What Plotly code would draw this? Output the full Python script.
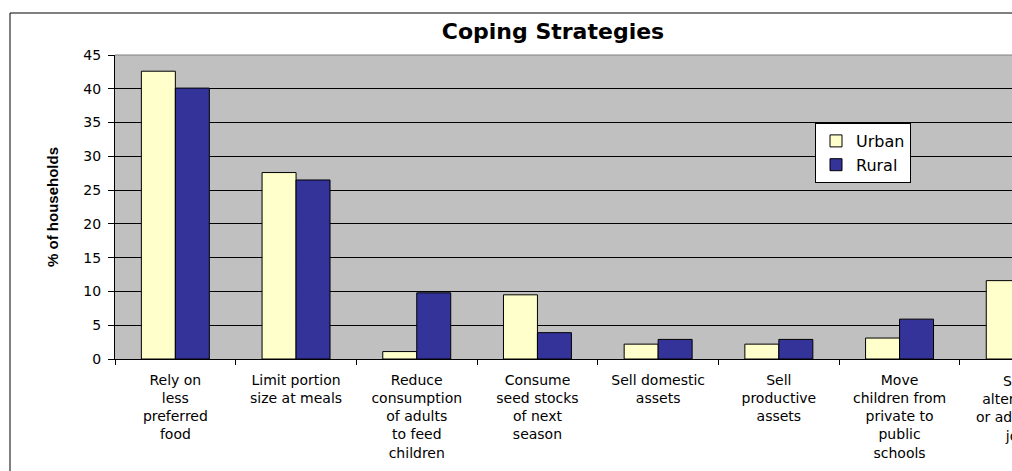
import plotly.graph_objects as go

categories = [
    "Rely on<br>less<br>preferred<br>food",
    "Limit portion<br>size at meals",
    "Reduce<br>consumption<br>of adults<br>to feed<br>children",
    "Consume<br>seed stocks<br>of next<br>season",
    "Sell domestic<br>assets",
    "Sell<br>productive<br>assets",
    "Move<br>children from<br>private to<br>public<br>schools",
    "Seek<br>alternative<br>or additional<br>jobs",
]
urban = [42.6, 27.6, 1.1, 9.5, 2.2, 2.2, 3.1, 11.6]
rural = [40.1, 26.5, 9.8, 3.9, 2.9, 2.9, 5.9, 9.0]

W, H = 1012, 471
ML, MR, MT, MB = 115, 0, 55, 112
PW = W - ML - MR
PH = H - MT - MB

tick_font = dict(family="DejaVu Sans", size=14, color="black")

fig = go.Figure()
fig.add_trace(go.Bar(name="Urban", x=list(range(len(categories))), y=urban,
                     marker=dict(color="#FFFFCC", line=dict(color="black", width=1))))
fig.add_trace(go.Bar(name="Rural", x=list(range(len(categories))), y=rural,
                     marker=dict(color="#333399", line=dict(color="black", width=1))))

cat_px = 120.7
x_end = -0.5 + PW / cat_px

fig.update_layout(
    width=W, height=H,
    margin=dict(l=ML, r=MR, t=MT, b=MB, pad=0),
    paper_bgcolor="white",
    plot_bgcolor="#C0C0C0",
    barmode="group",
    bargap=0.437,
    bargroupgap=0,
    title=dict(text="<b>Coping Strategies</b>", x=553 / W, xref="container", xanchor="center",
               y=1 - 31 / H, yref="container", yanchor="middle",
               font=dict(family="DejaVu Sans", size=22, color="black")),
    legend=dict(x=(815 - ML) / PW, y=1 - (123 - MT) / PH, xanchor="left", yanchor="top",
                bgcolor="white", bordercolor="black", borderwidth=1,
                font=dict(family="DejaVu Sans", size=16, color="black"),
                tracegroupgap=0),
    xaxis=dict(type="category", range=[-0.5, x_end], tickson="boundaries",
               tickmode="array", tickvals=list(range(len(categories))), ticktext=categories,
               ticks="outside", ticklen=5, ticklabelstandoff=8,
               tickcolor="black", tickwidth=1, showline=True, linecolor="black", linewidth=1,
               showgrid=False, tickfont=tick_font, tickangle=0),
    yaxis=dict(range=[0, 45], dtick=5, ticks="outside", ticklen=6, tickcolor="black",
               ticklabelstandoff=4,
               showline=True, linecolor="black", linewidth=1, showgrid=True,
               gridcolor="black", gridwidth=1, zeroline=False, tickfont=tick_font),
    showlegend=True,
)

# label of the last (partly cut-off) category, placed at its category centre
last = len(categories) - 1
fig.add_annotation(text=categories[last], xref="paper", yref="paper",
                   x=(last + 0.5) * cat_px / PW, y=0, yshift=-12,
                   xanchor="center", yanchor="top", align="center", showarrow=False,
                   font=tick_font)

fig.add_annotation(text="<b>% of households</b>", xref="paper", yref="paper",
                   x=(52 - ML) / PW, y=0.5, xanchor="center", yanchor="middle",
                   textangle=-90, showarrow=False,
                   font=dict(family="Liberation Sans", size=15, color="black"))

# outer chart border (clipped at right and bottom like the reference)
fig.add_shape(type="rect", xref="paper", yref="paper",
              x0=(10 - ML) / PW, x1=1.5, y0=-0.6, y1=1 + (MT - 13) / PH,
              line=dict(color="black", width=1), layer="above")
# grey top edge of plot area
fig.add_shape(type="line", xref="paper", yref="paper", x0=0, x1=1, y0=1, y1=1,
              line=dict(color="#808080", width=1), layer="above")

fig.write_html("out.html", config={"displayModeBar": False},
               post_script="document.body.style.margin='0';")
